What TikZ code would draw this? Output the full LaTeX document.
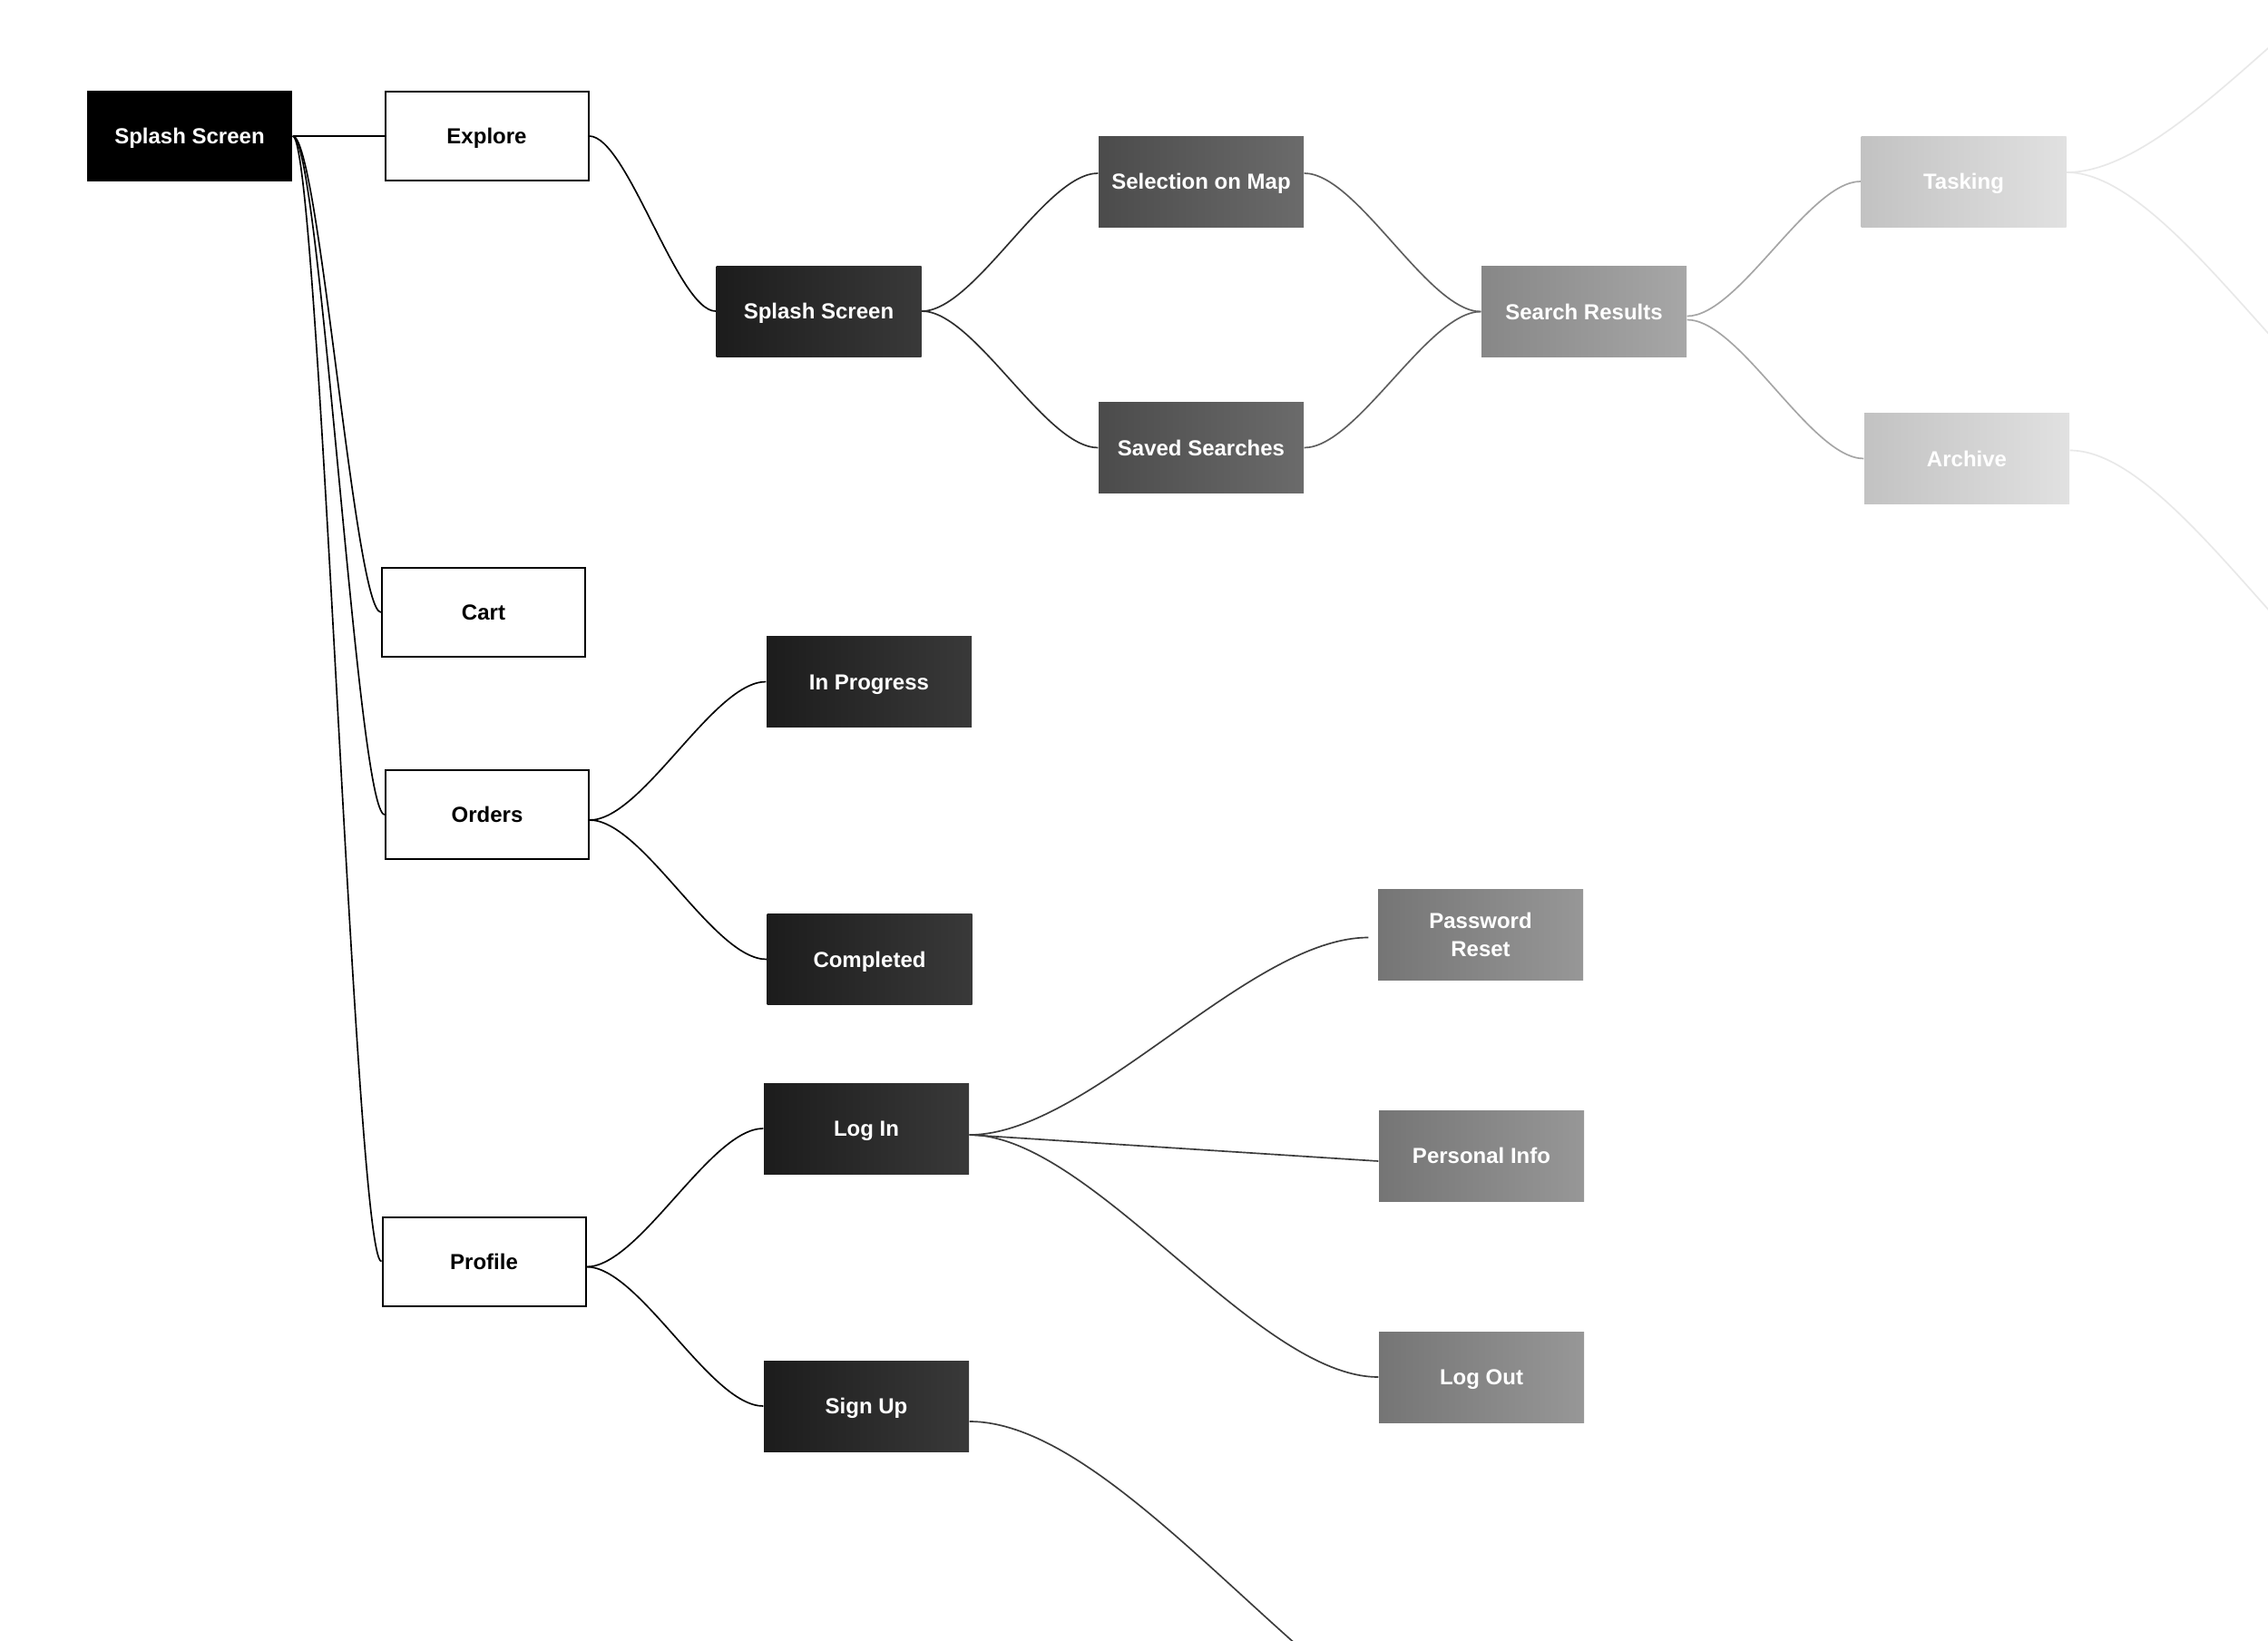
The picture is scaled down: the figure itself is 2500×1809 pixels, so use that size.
\documentclass[tikz,border=0pt]{standalone}
\usepackage{fontspec}
\setmainfont{Liberation Sans}
\usetikzlibrary{calc}
\definecolor{dkL}{HTML}{1C1C1C}
\definecolor{dkR}{HTML}{393939}
\definecolor{mdL}{HTML}{4B4B4B}
\definecolor{mdR}{HTML}{6B6B6B}
\definecolor{srL}{HTML}{878787}
\definecolor{srR}{HTML}{A7A7A7}
\definecolor{prL}{HTML}{757575}
\definecolor{prR}{HTML}{979797}
\definecolor{ltL}{HTML}{C2C2C2}
\definecolor{ltR}{HTML}{E1E1E1}
\definecolor{lnA}{HTML}{2E2E2E}
\definecolor{lnB}{HTML}{5E5E5E}
\definecolor{lnC}{HTML}{A5A5A5}
\definecolor{lnD}{HTML}{E8E8E8}
\definecolor{lnE}{HTML}{3C3C3C}
\tikzset{
  conn/.style={to path={let \p1=(\tikztostart), \p2=(\tikztotarget) in
     .. controls ($(\p1)!0.3!(\x2,\y1)$) and ($(\p2)!0.3!(\x1,\y2)$) .. (\p2) \tikztonodes}},
  box/.style={rectangle, minimum width=67.8pt, minimum height=30pt, inner sep=0pt,
     font=\fontsize{7.2}{9.2}\selectfont\bfseries, align=center, text=white,
     text height=5.6pt, text depth=0.3pt},
  wbox/.style={box, draw=black, line width=0.6pt, fill=white, text=black,
     minimum width=67.2pt, minimum height=29.4pt},
  rootbox/.style={box, fill=black},
  dkbox/.style={box, left color=dkL, right color=dkR},
  mdbox/.style={box, left color=mdL, right color=mdR},
  srbox/.style={box, left color=srL, right color=srR},
  prbox/.style={box, left color=prL, right color=prR},
  ltbox/.style={box, left color=ltL, right color=ltR},
  twoline/.style={text height=, text depth=},
  lk0/.style={draw=black, line width=0.5pt},
  lkA/.style={draw=lnA, line width=0.5pt},
  lkB/.style={draw=lnB, line width=0.5pt},
  lkC/.style={draw=lnC, line width=0.5pt},
  lkD/.style={draw=lnD, line width=0.5pt},
  lkE/.style={draw=lnE, line width=0.5pt},
}
\begin{document}
\begin{tikzpicture}[x=0.3pt,y=-0.3pt]
\useasboundingbox (0,0) rectangle (2500,1809);
\clip (0,0) rectangle (2500,1809);
\fill[white] (0,0) rectangle (2500,1809);

% nodes
\node[rootbox] (root) at (209,150) {Splash Screen};
\node[wbox] (explore) at (536.5,150) {Explore};
\node[dkbox] (splash) at (902.5,343) {Splash Screen};
\node[mdbox] (sel) at (1324,200) {Selection on Map};
\node[mdbox] (saved) at (1324,493.5) {Saved Searches};
\node[srbox] (results) at (1746,343.5) {Search Results};
\node[ltbox] (tasking) at (2164.5,200) {Tasking};
\node[ltbox] (archive) at (2168,505.5) {Archive};
\node[wbox] (cart) at (533,675) {Cart};
\node[wbox] (orders) at (537,898) {Orders};
\node[dkbox] (inprog) at (958,751.5) {In Progress};
\node[dkbox] (completed) at (958.5,1057.5) {Completed};
\node[wbox] (profile) at (533.5,1390.5) {Profile};
\node[dkbox] (login) at (955,1244) {Log In};
\node[dkbox] (signup) at (955,1550) {Sign Up};
\node[prbox, twoline] (pwreset) at (1632,1030.5) {Password\\Reset};
\node[prbox] (personal) at (1633,1274) {Personal Info};
\node[prbox] (logout) at (1633,1518) {Log Out};

% hidden continuation points (off the page)
\coordinate (h1) at (2729,-90);
\coordinate (h2) at (2700,520);
\coordinate (h3) at (2700,826);
\coordinate (h4) at (1672,1953);

% connectors
\draw[lk0] (root.east) -- (explore.west);
\draw[lk0] (root.east) to[conn] (cart.west);
\draw[lk0] (root.east) to[conn] (orders.west);
\draw[lk0] (root.east) to[conn] (profile.west);
\draw[lk0] (explore.east) to[conn] (splash.west);

\draw[lkA] (splash.east) to[conn] ($(sel.west)+(0,-9)$);
\draw[lkA] (splash.east) to[conn] (saved.west);
\draw[lkB] ($(sel.east)+(0,-9)$) to[conn] (results.west);
\draw[lkB] (saved.east) to[conn] (results.west);
\draw[lkC] ($(results.east)+(0,5)$) to[conn] (tasking.west);
\draw[lkC] ($(results.east)+(0,9)$) to[conn] (archive.west);
\draw[lkD] ($(tasking.east)+(0,-10)$) to[conn] (h1);
\draw[lkD] ($(tasking.east)+(0,-10)$) to[conn] (h2);
\draw[lkD] ($(archive.east)+(0,-9)$) to[conn] (h3);

\draw[lk0] ($(orders.east)+(0,6)$) to[conn] (inprog.west);
\draw[lk0] ($(orders.east)+(0,6)$) to[conn] (completed.west);
\draw[lk0] ($(profile.east)+(0,6)$) to[conn] (login.west);
\draw[lk0] ($(profile.east)+(0,6)$) to[conn] (signup.west);

\draw[lkE] ($(login.east)+(0,7)$) to[conn] ($(pwreset.west)+(-10,3)$);
\draw[lkE] ($(login.east)+(0,7)$) -- ($(personal.west)+(0,6)$);
\draw[lkE] ($(login.east)+(0,7)$) to[conn] (logout.west);
\draw[lkE] ($(signup.east)+(0,17)$) to[conn] (h4);
\end{tikzpicture}
\end{document}
